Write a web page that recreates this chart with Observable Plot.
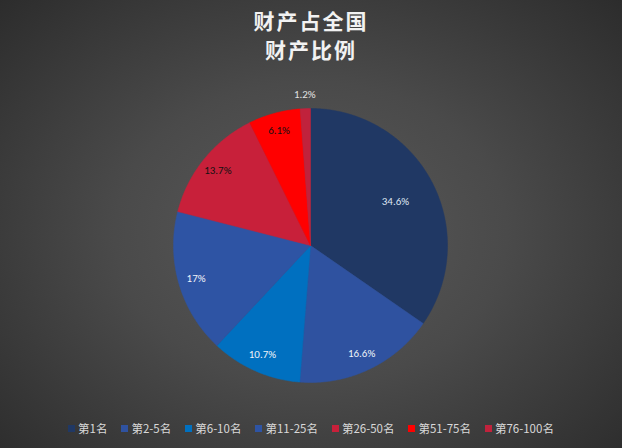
<!DOCTYPE html>
<html><head><meta charset="utf-8">
<script src="https://cdn.jsdelivr.net/npm/d3@7"></script>
<script src="https://cdn.jsdelivr.net/npm/@observablehq/plot@0.6"></script>
<style>
html,body{margin:0;padding:0;}
#wrap{width:622px;height:448px;position:relative;overflow:hidden;
 background:radial-gradient(ellipse 70% 75% at 50% 52%, #5a5a5a 0%, #4a4a4a 45%, #2c2c2c 100%);
 font-family:"Noto Sans CJK SC","Noto Sans",sans-serif;}
#title{position:absolute;top:6px;left:0;width:622px;text-align:center;color:#f2f2f2;font-size:21px;font-weight:bold;line-height:29px;letter-spacing:2px;}
#chart{position:absolute;top:70px;left:0;}
#legend{position:absolute;top:420px;left:0;width:622px;display:flex;justify-content:center;gap:14px;color:#d9d9d9;font-size:11.5px;}
#legend span.item{display:flex;align-items:center;}
#legend i{display:inline-block;width:7px;height:7px;margin-right:3px;}
</style></head>
<body><div id="wrap"><div id="title">财产占全国<br>财产比例</div><div id="chart"></div><div id="legend"></div></div>
<script>
const categories = ["第1名","第2-5名","第6-10名","第11-25名","第26-50名","第51-75名","第76-100名"];
const values = [34.6, 16.6, 10.7, 17, 13.7, 6.1, 1.2];
const labels = ["34.6%","16.6%","10.7%","17%","13.7%","6.1%","1.2%"];
const colors = ["#203864","#2f52a0","#0070c0","#2e54a4","#c8203a","#ff0000","#c0223c"];
const labelColors = ["#dfe6f2","#eef2f8","#eef2f8","#eef2f8","#111111","#111111","#e0e0e0"];

const total = d3.sum(values);
const polys = [];
const labs = [];
let acc = 0;
values.forEach((v, i) => {
  const a0 = acc / total * 2 * Math.PI;
  acc += v;
  const a1 = acc / total * 2 * Math.PI;
  const n = Math.max(2, Math.ceil((a1 - a0) / 0.01));
  polys.push({cat: categories[i], x: 0, y: 0});
  for (let k = 0; k <= n; k++) {
    const a = a0 + (a1 - a0) * k / n;
    polys.push({cat: categories[i], x: Math.sin(a), y: Math.cos(a)});
  }
  polys.push({cat: categories[i], x: 0, y: 0});
  const am = (a0 + a1) / 2;
  const share = v / total;
  const r = share < 0.03 ? 1.1 : share > 0.3 ? 0.7 : 0.87;
  labs.push({cat: categories[i], text: labels[i], col: labelColors[i], x: r * Math.sin(am), y: r * Math.cos(am)});
});

const plot = Plot.plot({
  width: 622, height: 340,
  marginLeft: 173, marginRight: 175, marginTop: 38, marginBottom: 28,
  x: {domain: [-1, 1], axis: null},
  y: {domain: [-1, 1], axis: null},
  color: {domain: categories, range: colors},
  style: {background: "transparent", overflow: "visible"},
  marks: [
    Plot.line(polys, {x: "x", y: "y", z: "cat", fill: "cat", stroke: "cat", strokeWidth: 0.5, curve: "linear"}),
    Plot.text(labs, {x: "x", y: "y", text: "text", fill: d => d.col, fontSize: 11, fontFamily: "Calibri, 'Liberation Sans', 'Noto Sans', sans-serif"})
  ]
});
document.getElementById("chart").appendChild(plot);

const sc = plot.scale("color");
const lg = document.getElementById("legend");
categories.forEach(c => {
  const s = document.createElement("span");
  s.className = "item";
  s.innerHTML = `<i style="background:${sc.apply(c)}"></i>${c}`;
  lg.appendChild(s);
});
</script></body></html>
